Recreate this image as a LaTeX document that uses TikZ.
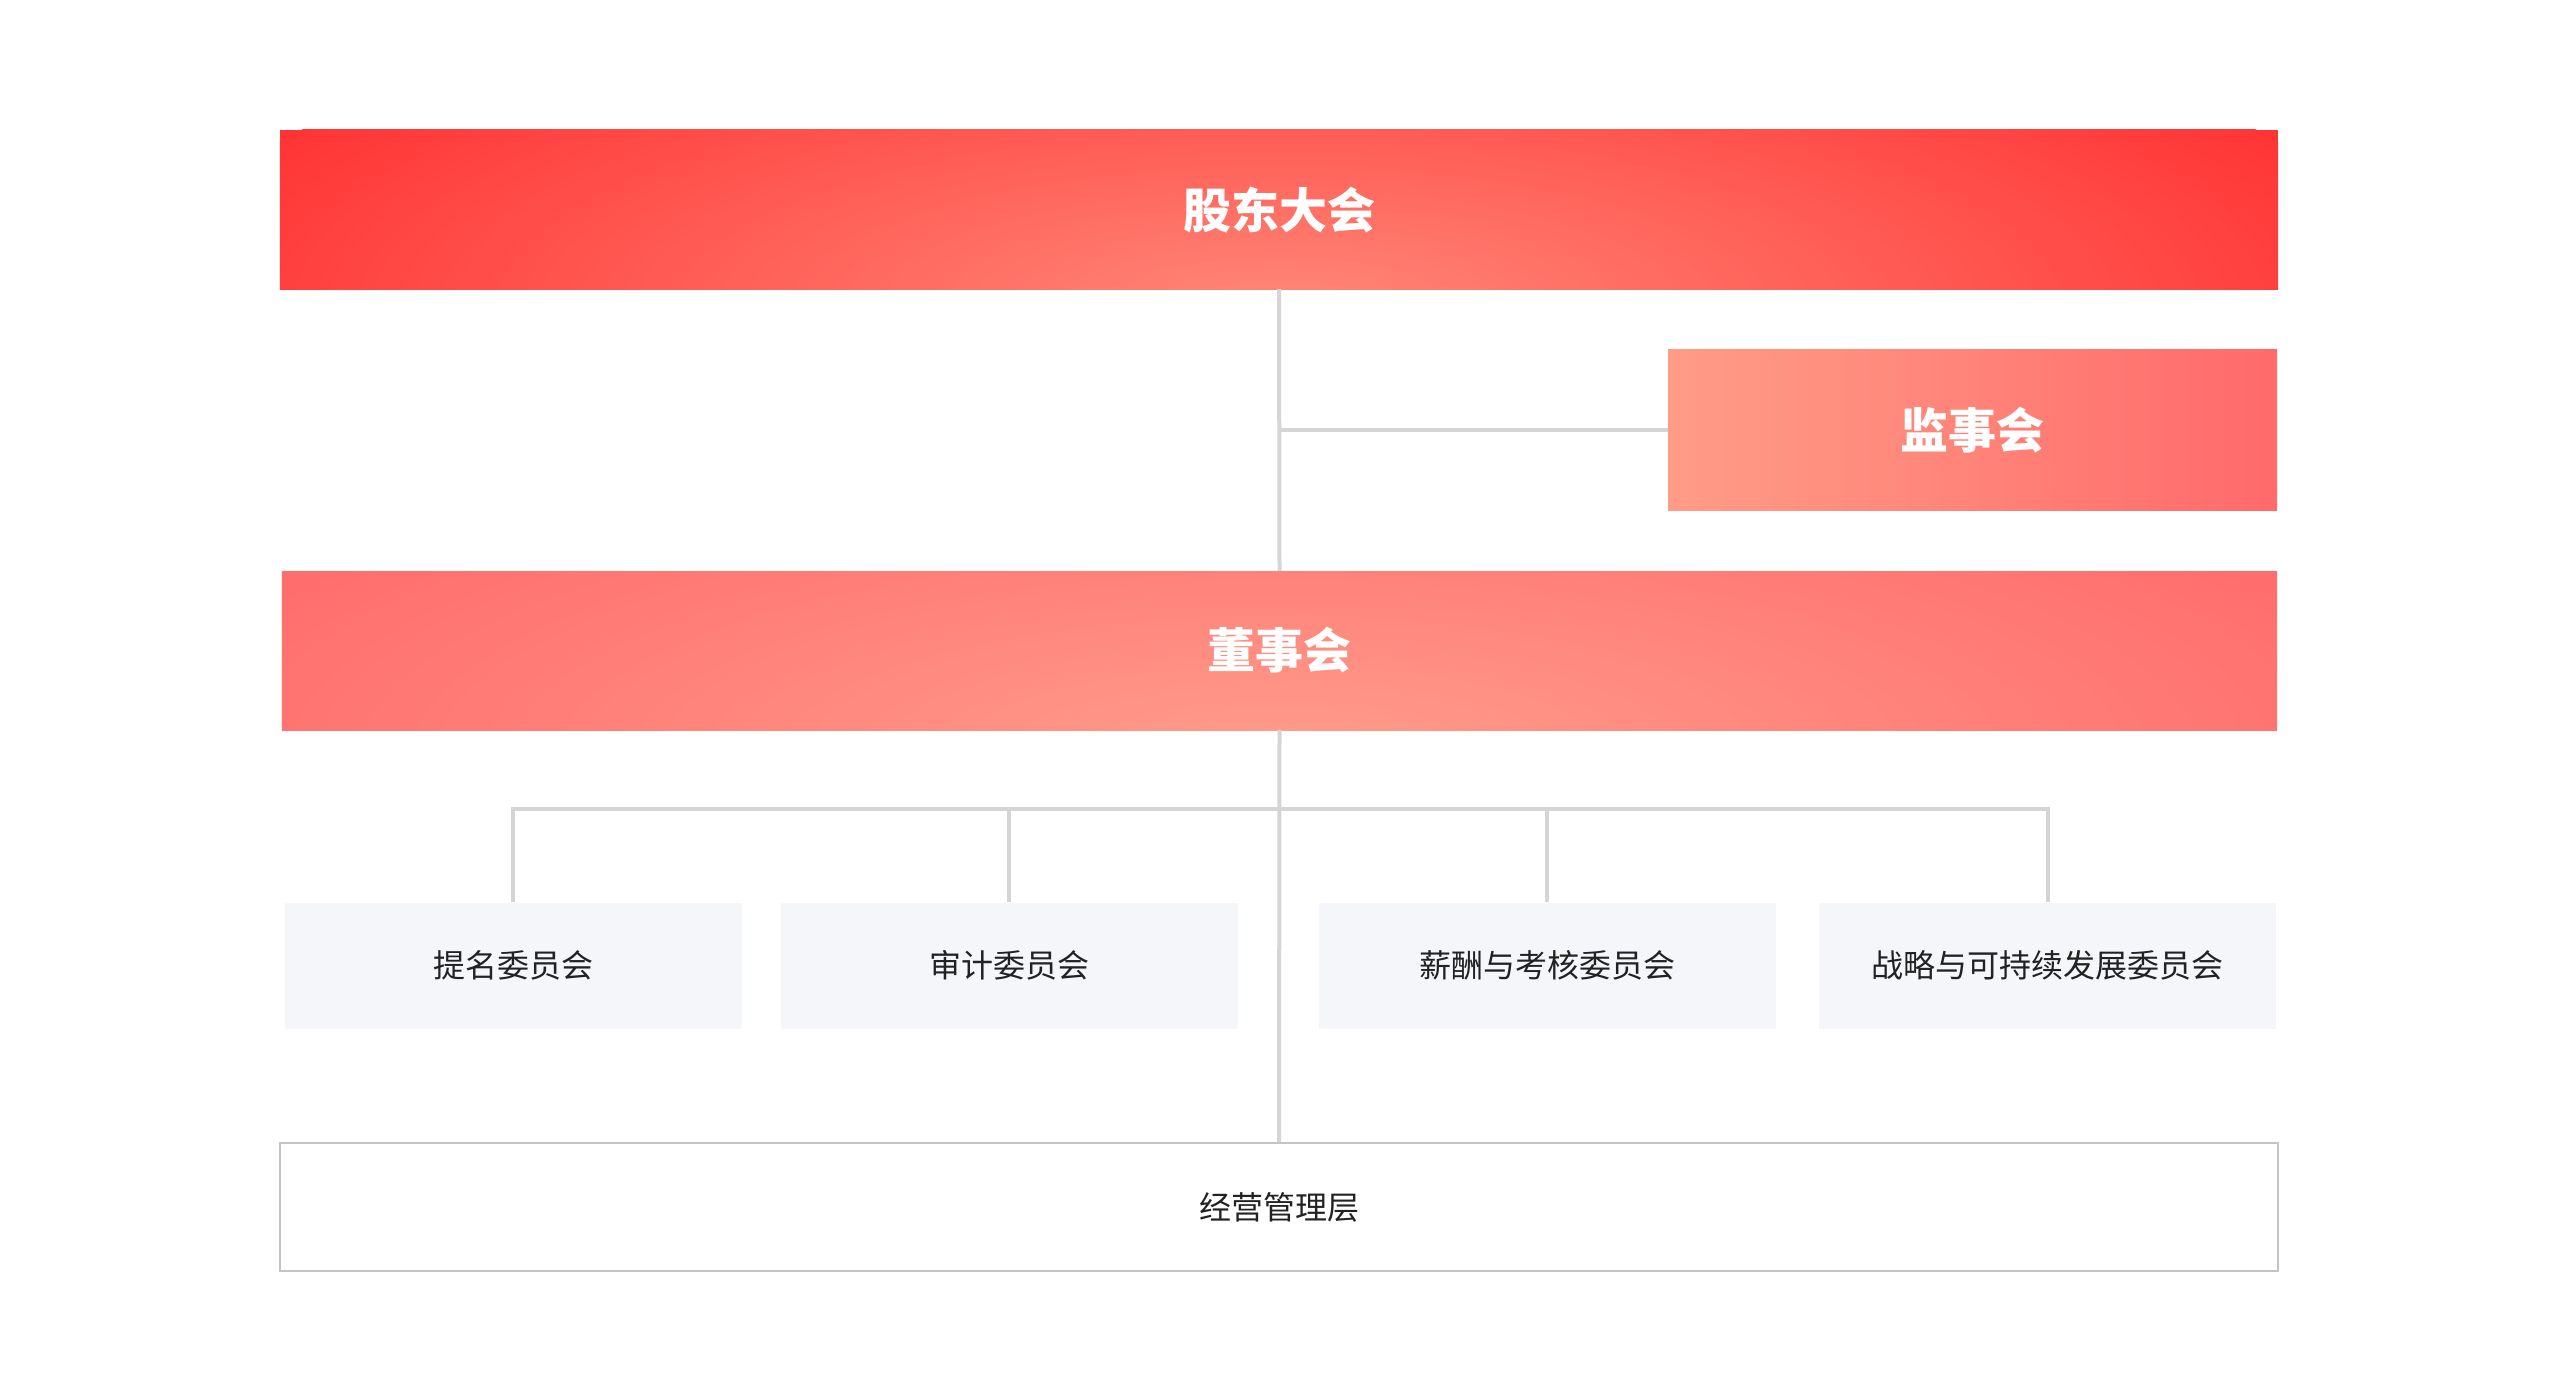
\documentclass[tikz,border=0pt]{standalone}
\usepackage{fontspec}
\setmainfont{Noto Sans CJK SC}
\usetikzlibrary{calc}
\definecolor{topred}{HTML}{FF3535}
\definecolor{toplight}{HTML}{FF8878}
\definecolor{midred}{HTML}{FF6A6A}
\definecolor{midlight}{HTML}{FF9D8B}
\definecolor{supleft}{HTML}{FF9C87}
\definecolor{supright}{HTML}{FF6A6A}
\definecolor{boxgray}{HTML}{F5F6FA}
\definecolor{linegray}{HTML}{D5D5D5}
\definecolor{bordergray}{HTML}{C4C4C4}
\definecolor{textdark}{HTML}{222222}
\tikzset{
  bigbar/.style={rectangle, inner sep=0pt, minimum height=159bp, text=white,
    font=\fontsize{48bp}{48bp}\selectfont\bfseries},
  cmte/.style={rectangle, inner sep=0pt, fill=boxgray, minimum width=457bp,
    minimum height=126bp, text=textdark, font=\fontsize{32bp}{32bp}\selectfont},
  conn/.style={draw=linegray, line width=4bp},
}
\begin{document}
\begin{tikzpicture}[x=1bp,y=-1bp]
\useasboundingbox (0,0) rectangle (2560,1400);
\fill[white] (0,0) rectangle (2560,1400);

% shareholders meeting
\node[bigbar, minimum width=1998bp, fill=topred,
  path picture={\shade[inner color=toplight, outer color=topred]
    ($(path picture bounding box.south)+(0,20)$) ellipse (1150 and 340);}]
  (gd) at (1279,209.5) {股东大会};

% supervisory board
\node[bigbar, minimum width=609bp, minimum height=160bp, left color=supleft, right color=supright]
  (js) at (1972.5,430) {监事会};

% board of directors
\node[bigbar, minimum width=1995bp, fill=midred,
  path picture={\shade[inner color=midlight, outer color=midred]
    ($(path picture bounding box.south)+(0,30)$) ellipse (1250 and 360);}]
  (dsh) at (1279.5,650.5) {董事会};

% committees
\node[cmte] (c1) at (513,965.5) {提名委员会};
\node[cmte] (c2) at (1009,965.5) {审计委员会};
\node[cmte] (c3) at (1547,965.5) {薪酬与考核委员会};
\node[cmte] (c4) at (2047.5,965.5) {战略与可持续发展委员会};

% management
\node[rectangle, inner sep=0pt, draw=bordergray, line width=2.5bp, fill=white,
  minimum width=1998bp, minimum height=128bp, text=textdark,
  font=\fontsize{32bp}{32bp}\selectfont] (mg) at (1279,1207) {经营管理层};

\coordinate (bar) at (1280,809);

% connectors
\draw[conn] (gd.south) -- (dsh.north);
\draw[conn] (gd.south |- js.west) -- (js.west);
\draw[conn] (dsh.south) -- (mg.north);
\draw[conn] (c1.north) -- (c1.north |- bar) -- (c4.north |- bar) -- (c4.north);
\draw[conn] (c2.north |- bar) -- (c2.north);
\draw[conn] (c3.north |- bar) -- (c3.north);
\end{tikzpicture}
\end{document}
